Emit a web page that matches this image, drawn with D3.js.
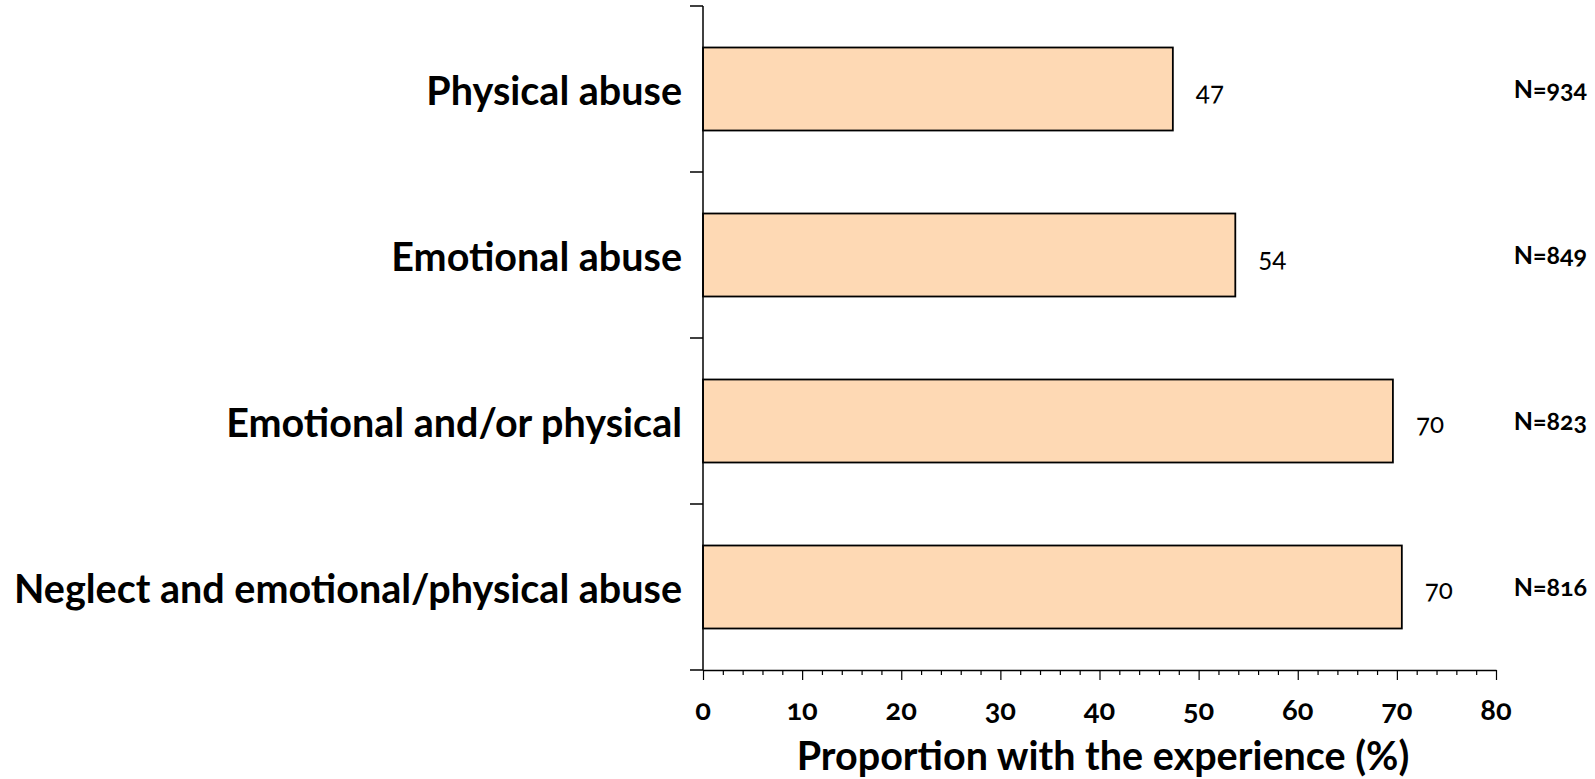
<!DOCTYPE html>
<html>
<head>
<meta charset="utf-8">
<script src="https://cdn.jsdelivr.net/npm/d3@7"></script>
<style>
  body { margin: 0; background: white; }
  text { font-family: Lato, "Open Sans", sans-serif; fill: black; }
</style>
</head>
<body>
<script>
// data
let categories = ["Physical abuse", "Emotional abuse", "Emotional and/or physical", "Neglect and emotional/physical abuse"]
let values = [47.4, 53.7, 69.6, 70.5]
let valueLabels = ["47", "54", "70", "70"]
let nLabels = ["N=934", "N=849", "N=823", "N=816"]
let xTicks = [0, 10, 20, 30, 40, 50, 60, 70, 80]
let xTitle = "Proportion with the experience (%)"

let W = 1595, H = 779
let svg = d3.select("body")
  .append("svg")
    .attr("width", W)
    .attr("height", H)

let x = d3.scaleLinear().domain([0, 80]).range([703, 1496])
let y = d3.scaleBand().domain(categories).range([6, 670]).paddingInner(0.5).paddingOuter(0.25)

// bars
svg.append("g")
  .selectAll("rect")
  .data(values)
  .join("rect")
    .attr("x", x(0))
    .attr("y", (d, i) => y(categories[i]))
    .attr("width", d => x(d) - x(0))
    .attr("height", y.bandwidth())
    .attr("fill", "#fed9b4")
    .attr("stroke", "black")
    .attr("stroke-width", 1.8)

let mid = c => y(c) + y.bandwidth() / 2

// value labels
svg.append("g")
  .selectAll("text")
  .data(values)
  .join("text")
    .attr("x", d => x(d) + 23)
    .attr("y", (d, i) => mid(categories[i]) + 12)
    .attr("font-size", 26)
    .style("font-variant-numeric", "oldstyle-nums")
    .text((d, i) => valueLabels[i])

// N labels
svg.append("g")
  .selectAll("text")
  .data(nLabels)
  .join("text")
    .attr("x", 1587)
    .attr("y", (d, i) => mid(categories[i]) + 9)
    .attr("text-anchor", "end")
    .attr("font-size", 25)
    .attr("font-weight", "bold")
    .style("font-variant-numeric", "oldstyle-nums")
    .text(d => d)

// category labels
svg.append("g")
  .selectAll("text")
  .data(categories)
  .join("text")
    .attr("x", 682)
    .attr("y", d => mid(d) + 16)
    .attr("text-anchor", "end")
    .attr("font-size", 39.5)
    .attr("font-weight", "bold")
    .text(d => d)

// y axis: line with ticks at band boundaries
let yBounds = d3.range(categories.length + 1).map(i => 6 + i * (664 / categories.length))
let ya = svg.append("g").attr("stroke", "black").attr("stroke-width", 1.5)
ya.append("line").attr("x1", x(0)).attr("x2", x(0)).attr("y1", 6).attr("y2", 670)
ya.selectAll(".yt")
  .data(yBounds)
  .join("line")
    .attr("class", "yt")
    .attr("x1", x(0) - 13).attr("x2", x(0))
    .attr("y1", d => d).attr("y2", d => d)

// x axis
let xAxis = d3.axisBottom(x)
  .tickValues(d3.range(0, 81, 2))
  .tickSize(5)
  .tickSizeOuter(0)
  .tickFormat("")
let xg = svg.append("g")
  .attr("transform", "translate(0,670)")
  .call(xAxis)
xg.select(".domain").attr("stroke-width", 1.5)
xg.selectAll(".tick line").attr("stroke-width", 1.2)
xg.selectAll(".tick")
  .filter(d => d % 10 == 0)
  .select("line")
    .attr("y2", 10)

svg.append("g")
  .selectAll("text")
  .data(xTicks)
  .join("text")
    .attr("x", d => x(d))
    .attr("y", 720)
    .attr("text-anchor", "middle")
    .attr("font-size", 29)
    .attr("font-weight", "bold")
    .style("font-variant-numeric", "oldstyle-nums")
    .text(d => d)

svg.append("text")
  .attr("x", 1103)
  .attr("y", 770)
  .attr("text-anchor", "middle")
  .attr("font-size", 39.5)
  .attr("font-weight", "bold")
  .text(xTitle)
</script>
</body>
</html>
